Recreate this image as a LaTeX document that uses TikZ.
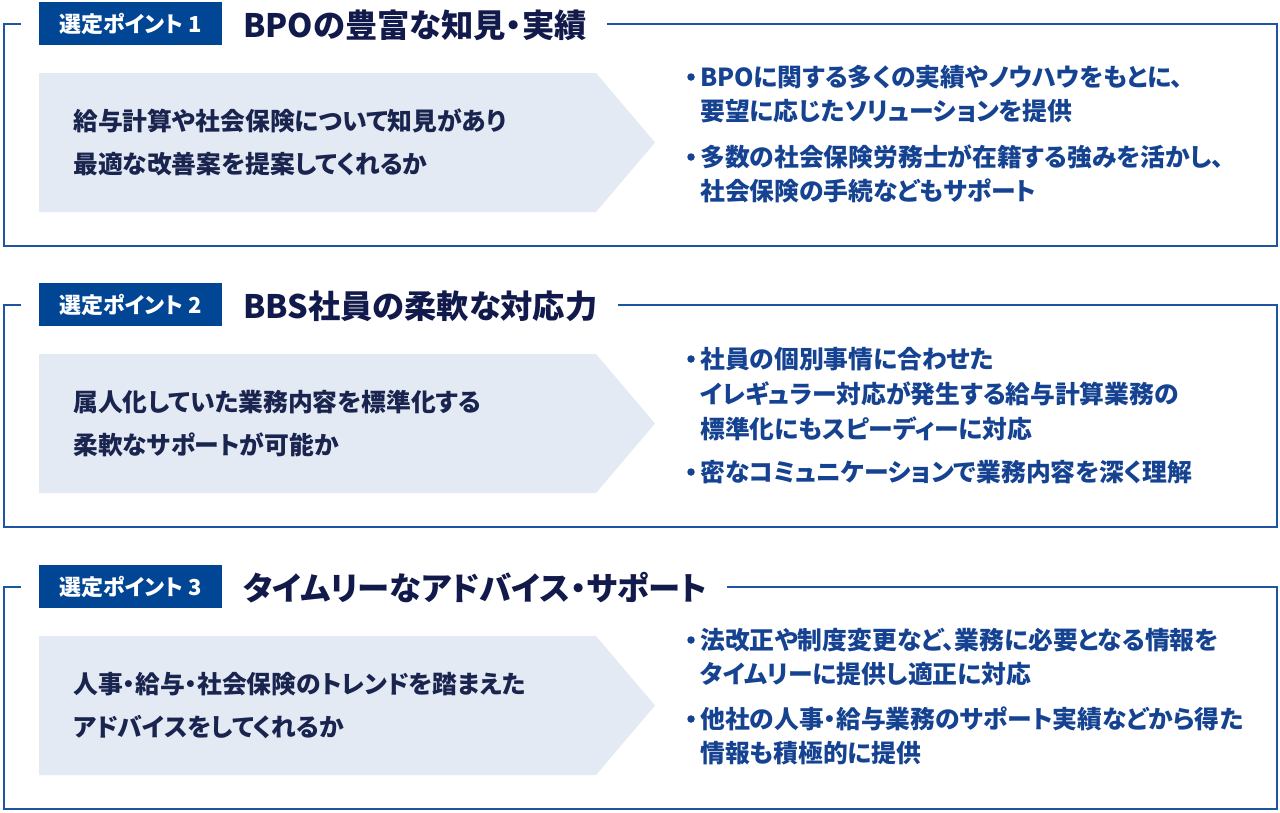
\documentclass[tikz,border=0pt]{standalone}
\usepackage{fontspec}
\setmainfont{Noto Sans CJK JP}[RawFeature=+palt]
\definecolor{labelblue}{HTML}{004694}
\definecolor{framecol}{HTML}{1D55A0}
\definecolor{titlecol}{HTML}{111A4A}
\definecolor{leftcol}{HTML}{19244F}
\definecolor{rightcol}{HTML}{154391}
\definecolor{graybg}{HTML}{E4EAF3}
\tikzset{
  frame/.style={draw=framecol, line width=2pt},
  labelbox/.style={rectangle, fill=labelblue, text=white, inner sep=0pt, minimum width=183pt, minimum height=43pt, font=\fontsize{22}{24}\selectfont\bfseries},
  titletext/.style={inner sep=0pt, text=titlecol, font=\fontsize{32.3}{36}\selectfont\bfseries},
  lefttext/.style={inner sep=0pt, align=left, text=leftcol, font=\fontsize{24.8}{43.5}\selectfont\bfseries},
  righttext/.style={inner sep=0pt, align=left, text=rightcol, font=\fontsize{24.8}{34}\selectfont\bfseries},
  righttextb/.style={righttext, font=\fontsize{24.8}{35}\selectfont\bfseries},
  dot/.style={circle, fill=rightcol, inner sep=0pt, minimum size=7.5pt},
}
\newcommand\selpanel[5]{%
  \path[fill=graybg] (39,{#1+49}) -- (596,{#1+49}) -- (655,{#1+118.5}) -- (596,{#1+188}) -- (39,{#1+188}) -- cycle;
  \node[labelbox] (lab#2) at (130.5,{#1-0.5}) {選定ポイント #3};
  \node[titletext, anchor=base west] (title#2) at (243,{#1+13}) {#4};
  \coordinate (tl#2) at (4,#1);
  \draw[frame] (21,#1) -- (tl#2) -- (4,{#1+222}) -- (1277,{#1+222}) -- (1277,#1) -- ([xshift=20pt]title#2.east |- tl#2);
  \node[lefttext, anchor=base west] (left#2) at (73,{#1+149.5}) {#5};
}
\begin{document}
\begin{tikzpicture}[x=1pt,y=-1pt]
\useasboundingbox[fill=white] (0,0) rectangle (1280,812);

% Panel 1
\selpanel{24}{1}{1}{BPOの豊富な知見・実績}{給与計算や社会保険について知見があり\\最適な改善案を提案してくれるか}
\node[dot] (d1a) at (691,{24+53}) {};
\node[righttext, anchor=base west] (r1a) at (700,{24+96}) {BPOに関する多くの実績やノウハウをもとに、\\要望に応じたソリューションを提供};
\node[dot] (d1b) at (691,{24+133}) {};
\node[righttext, anchor=base west] (r1b) at (700,{24+176}) {多数の社会保険労務士が在籍する強みを活かし、\\社会保険の手続などもサポート};

% Panel 2
\selpanel{305}{2}{2}{BBS社員の柔軟な対応力}{属人化していた業務内容を標準化する\\柔軟なサポートが可能か}
\node[dot] (d2a) at (691,{305+54}) {};
\node[righttextb, anchor=base west] (r2a) at (700,{305+133}) {社員の個別事情に合わせた\\イレギュラー対応が発生する給与計算業務の\\標準化にもスピーディーに対応};
\node[dot] (d2b) at (691,{305+167}) {};
\node[righttext, anchor=base west] (r2b) at (700,{305+176}) {密なコミュニケーションで業務内容を深く理解};

% Panel 3
\selpanel{587}{3}{3}{タイムリーなアドバイス・サポート}{人事・給与・社会保険のトレンドを踏まえた\\アドバイスをしてくれるか}
\node[dot] (d3a) at (691,{587+53}) {};
\node[righttext, anchor=base west] (r3a) at (700,{587+96}) {法改正や制度変更など、業務に必要となる情報を\\タイムリーに提供し適正に対応};
\node[dot] (d3b) at (691,{587+132}) {};
\node[righttext, anchor=base west] (r3b) at (700,{587+175}) {他社の人事・給与業務のサポート実績などから得た\\情報も積極的に提供};
\end{tikzpicture}
\end{document}
